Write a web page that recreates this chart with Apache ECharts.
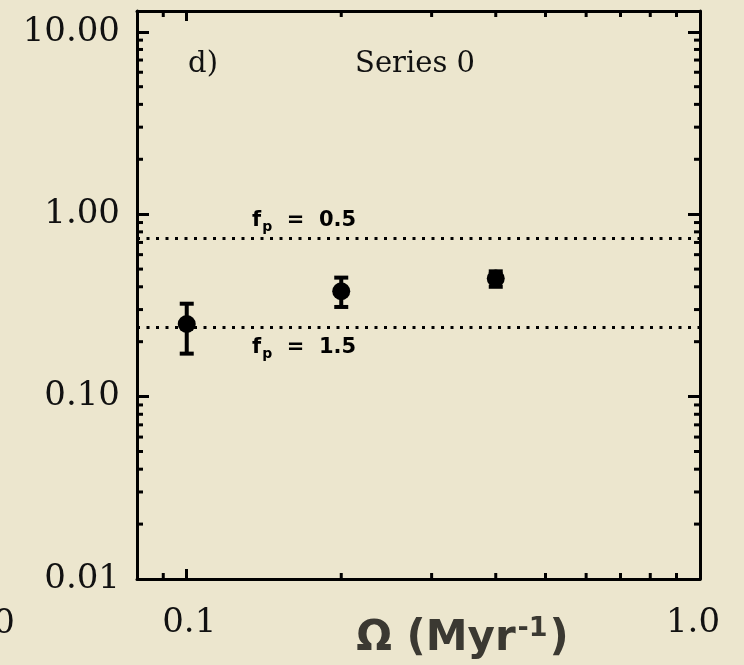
<!DOCTYPE html>
<html>
<head>
<meta charset="utf-8">
<script src="https://cdn.jsdelivr.net/npm/echarts@6/dist/echarts.min.js"></script>
<style>
  html, body { margin: 0; padding: 0; background: #ece6ce; }
  #chart { width: 744px; height: 665px; }
</style>
</head>
<body>
<div id="chart"></div>
<script>
// data
const omega = [0.1, 0.2, 0.4];
const ratio = [0.25, 0.378, 0.444];
const errLow = [0.172, 0.31, 0.40];
const errHigh = [0.323, 0.449, 0.486];

// reference lines (f_p values)
const refLevels = [0.736, 0.243];
const refNames = ['0.5', '1.5'];

// axes
const xRange = [0.08, 1.0];
const yRange = [0.01, 13];
const xMinorTicks = [0.09, 0.2, 0.3, 0.4, 0.5, 0.6, 0.7, 0.8, 0.9];
const yMinorTicks = [
  0.02, 0.03, 0.04, 0.05, 0.06, 0.07, 0.08, 0.09,
  0.2, 0.3, 0.4, 0.5, 0.6, 0.7, 0.8, 0.9,
  2, 3, 4, 5, 6, 7, 8, 9
];
const yTickLabels = { '0.01': '0.01', '0.1': '0.10', '1': '1.00', '10': '10.00' };
const xTickLabels = { '0.1': '{a|0.1}', '1': '{b|1.0}' };

const chart = echarts.init(document.getElementById('chart'));

const serif = 'DejaVu Serif';
const ink = '#000';

const axisCommon = {
  type: 'log',
  logBase: 10,
  axisLine: { show: true, onZero: false, lineStyle: { color: ink, width: 3 } },
  splitLine: { show: false },
  minorTick: { show: false },
};

// minor ticks drawn on all four sides through the axis scales
function xTickItem(params, api) {
  const cs = params.coordSys;
  const px = api.coord([api.value(0), yRange[0]])[0];
  const style = { stroke: ink, lineWidth: 3 };
  return {
    type: 'group',
    children: [
      { type: 'line', shape: { x1: px, y1: cs.y + cs.height, x2: px, y2: cs.y + cs.height - 6 }, style },
      { type: 'line', shape: { x1: px, y1: cs.y, x2: px, y2: cs.y + 6 }, style },
    ],
  };
}
function yTickItem(params, api) {
  const cs = params.coordSys;
  const py = api.coord([xRange[0], api.value(1)])[1];
  const style = { stroke: ink, lineWidth: 3 };
  return {
    type: 'group',
    children: [
      { type: 'line', shape: { x1: cs.x, y1: py, x2: cs.x + 6, y2: py }, style },
      { type: 'line', shape: { x1: cs.x + cs.width, y1: py, x2: cs.x + cs.width - 6, y2: py }, style },
    ],
  };
}

function fpLabel(name) {
  return '{f|f}{p|p}{n|  =  ' + name + '}';
}
const fpRich = {
  f: { fontFamily: 'DejaVu Sans', fontWeight: 'bold', fontSize: 21, color: ink },
  p: { fontFamily: 'DejaVu Sans', fontWeight: 'bold', fontSize: 14, color: ink, padding: [13, 0, 0, 1] },
  n: { fontFamily: 'DejaVu Sans', fontWeight: 'bold', fontSize: 21, color: ink },
};

const option = {
  backgroundColor: '#ece6ce',
  animation: false,
  grid: { left: 137, right: 44, top: 11, bottom: 86, containLabel: false, outerBoundsMode: 'none' },
  xAxis: [
    Object.assign({}, axisCommon, {
      position: 'bottom',
      min: xRange[0],
      max: xRange[1],
      axisTick: { show: true, inside: true, length: 10, lineStyle: { color: ink, width: 3 } },
      axisLabel: {
        margin: 27,
        fontFamily: serif,
        fontSize: 34,
        color: '#111',
        formatter: (v) => xTickLabels[String(+v.toPrecision(6))] || '',
        rich: {
          a: { fontFamily: serif, fontSize: 34, color: '#111', padding: [0, 0, 0, 5] },
          b: { fontFamily: serif, fontSize: 34, color: '#111', padding: [0, 14, 0, 0] },
        },
      },
      name: 'Ω (Myr{sup|-1})',
      nameLocation: 'middle',
      nameGap: 36,
      nameMoveOverlap: false,
      nameTextStyle: {
        fontFamily: 'DejaVu Sans',
        fontWeight: 'bold',
        fontSize: 42,
        color: '#3b3932',
        verticalAlign: 'top',
        padding: [0, 0, 0, 88],
        rich: {
          sup: { fontFamily: 'DejaVu Sans', fontWeight: 'bold', fontSize: 27, color: '#3b3932', padding: [0, 2, 22, 2] },
        },
      },
    }),
    Object.assign({}, axisCommon, {
      position: 'top',
      min: xRange[0],
      max: xRange[1],
      axisTick: { show: true, inside: true, length: 10, lineStyle: { color: ink, width: 3 } },
      axisLabel: { show: false },
    }),
  ],
  yAxis: [
    Object.assign({}, axisCommon, {
      position: 'left',
      min: yRange[0],
      max: yRange[1],
      axisTick: { show: true, inside: true, length: 12, lineStyle: { color: ink, width: 3 } },
      axisLabel: {
        margin: 17,
        fontFamily: serif,
        fontSize: 34,
        color: '#111',
        formatter: (v) => yTickLabels[String(+v.toPrecision(6))] || '',
      },
    }),
    Object.assign({}, axisCommon, {
      position: 'right',
      min: yRange[0],
      max: yRange[1],
      axisTick: { show: true, inside: true, length: 12, lineStyle: { color: ink, width: 3 } },
      axisLabel: { show: false },
    }),
  ],
  graphic: [
    { type: 'text', x: 203, y: 64, style: { text: 'd)', font: '29px "DejaVu Serif"', fill: '#111', align: 'center', verticalAlign: 'middle' } },
    { type: 'text', x: 415, y: 64, style: { text: 'Series 0', font: '29px "DejaVu Serif"', fill: '#111', align: 'center', verticalAlign: 'middle' } },
    // edge of the neighbouring panel's tick label, cut by the frame
    { type: 'text', x: 15, y: 624, style: { text: '1.0', font: '34px "DejaVu Serif"', fill: '#111', align: 'right', verticalAlign: 'middle' } },
  ],
  series: [
    {
      type: 'custom',
      silent: true,
      clip: false,
      renderItem: xTickItem,
      encode: { x: 0, y: 1 },
      data: xMinorTicks.map((v) => [v, yRange[0]]),
      z: 5,
    },
    {
      type: 'custom',
      silent: true,
      clip: false,
      renderItem: yTickItem,
      encode: { x: 0, y: 1 },
      data: yMinorTicks.map((v) => [xRange[0], v]),
      z: 5,
    },
    {
      name: 'error',
      type: 'custom',
      silent: true,
      renderItem: function (params, api) {
        const x = api.value(0);
        const lo = api.coord([x, api.value(1)]);
        const hi = api.coord([x, api.value(2)]);
        const style = { stroke: ink, lineWidth: 4 };
        const cap = 7;
        return {
          type: 'group',
          children: [
            { type: 'line', shape: { x1: lo[0], y1: lo[1], x2: hi[0], y2: hi[1] }, style },
            { type: 'line', shape: { x1: lo[0] - cap, y1: lo[1], x2: lo[0] + cap, y2: lo[1] }, style },
            { type: 'line', shape: { x1: hi[0] - cap, y1: hi[1], x2: hi[0] + cap, y2: hi[1] }, style },
          ],
        };
      },
      encode: { x: 0, y: [1, 2] },
      data: omega.map((x, i) => [x, errLow[i], errHigh[i]]),
      z: 6,
    },
    {
      name: 'Series 0',
      type: 'scatter',
      symbol: 'circle',
      symbolSize: 18,
      itemStyle: { color: ink, opacity: 1 },
      data: omega.map((x, i) => [x, ratio[i]]),
      z: 7,
      markLine: {
        silent: true,
        symbol: 'none',
        animation: false,
        lineStyle: { color: ink, width: 3, type: [3, 6.5], cap: 'butt', opacity: 1 },
        data: refLevels.map((y, i) => ({
          yAxis: y,
          label: {
            show: true,
            position: i === 0 ? 'insideStartTop' : 'insideStartBottom',
            distance: i === 0 ? [115, 4] : [115, 7],
            formatter: fpLabel(refNames[i]),
            rich: fpRich,
          },
        })),
      },
    },
  ],
};

chart.setOption(option);
</script>
</body>
</html>
